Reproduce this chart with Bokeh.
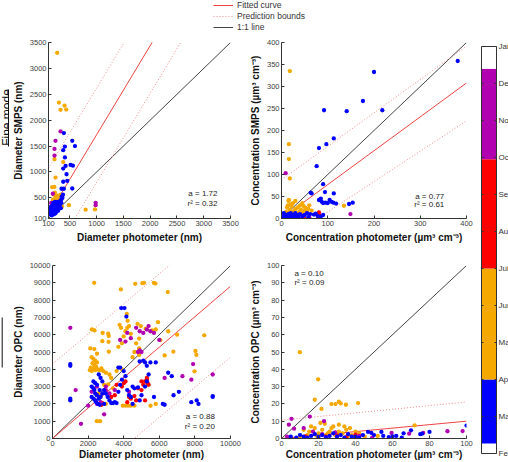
import numpy as np
from bokeh.plotting import figure
from bokeh.models import (Range1d, ColumnDataSource, Label, Legend, LegendItem,
                          CategoricalColorMapper)
from bokeh.layouts import row, column
from bokeh.embed import file_html
from bokeh.resources import INLINE
from bokeh.core.properties import value

FONT = "Liberation Sans"

# ---------------- data ----------------
GROUPS = ["Feb-Mar", "Apr-Jun", "Jul-Sep", "Oct-Dec"]
GROUP_COLORS = ["#0000ff", "#f5a800", "#ff0000", "#b000b0"]

FIT_COLOR = "#ee4444"
BOUND_COLOR = "#f08a8a"
ONE_COLOR = "#444444"

# colour bar (month axis: Feb at bottom = 0 ... Jan at top = 11)
MONTHS = ["Feb", "Mar", "Apr", "May", "Jun", "Jul", "Aug", "Sep", "Oct", "Nov", "Dec", "Jan"]
CB_EDGES = [0.0, 0.27, 2.0, 5.0, 7.95, 10.4, 11.0]
CB_COLORS = ["#ffffff", "#0000ff", "#f5a800", "#ff0000", "#b000b0", "#ffffff"]

# panel 1: fine mode diameter (SMPS vs photometer)
fine_dia_orange = [(262, 3300), (294, 2340), (400, 2280), (325, 2200), (431, 2205), (212, 1245),
                   (375, 1190), (231, 890), (169, 705), (210, 710), (200, 560), (220, 600),
                   (240, 520), (215, 470), (250, 450), (180, 460), (260, 540), (230, 500),
                   (280, 320), (300, 300), (270, 350), (481, 357), (794, 270), (969, 275),
                   (350, 330), (190, 420), (205, 380), (240, 280), (290, 480), (320, 560)]
fine_dia_magenta = [(325, 1783), (231, 1600), (212, 1445), (212, 1315), (181, 578), (981, 403),
                    (981, 357), (150, 400), (200, 250), (170, 330)]
fine_dia_blue = [(387, 1750), (544, 1600), (594, 1500), (375, 1420), (406, 1490), (406, 1280),
                 (375, 1065), (419, 1115), (512, 1135), (556, 1120), (437, 955), (375, 810),
                 (450, 825), (344, 675), (387, 675), (544, 680), (130, 180), (150, 200),
                 (160, 230), (180, 260), (200, 300), (220, 320), (240, 360), (260, 380),
                 (280, 400), (300, 420), (320, 440), (340, 470), (360, 500), (150, 300),
                 (170, 350), (190, 400), (210, 250), (230, 200), (250, 300), (270, 280),
                 (290, 330), (310, 350), (140, 260), (160, 160), (200, 180), (240, 230),
                 (280, 250), (330, 300), (350, 520), (370, 560), (120, 220), (180, 200),
                 (220, 420), (260, 420), (300, 380), (340, 400), (130, 320), (175, 280)]
fine_dia_red = []
fine_dia_fit = (1.72, 0.32)
fine_dia_upper = (1.72, 900)
fine_dia_lower = (1.72, -920)

# panel 2: fine mode volume concentration (SMPS vs photometer)
fine_conc_blue = [(200, 333), (176, 267), (92, 246), (141, 244), (218, 246), (113, 182), (97, 169),
                  (81, 160), (76, 119), (90, 78), (63, 59), (65, 57), (94, 60), (113, 57),
                  (81, 42), (87, 38), (90, 35), (95, 36), (100, 35), (104, 42), (108, 38),
                  (112, 36), (118, 34), (85, 45), (146, 33), (154, 36), (381, 358),
                  (3, 2), (5, 5), (8, 3), (10, 8), (12, 4), (15, 10), (18, 6), (20, 12), (22, 3),
                  (25, 9), (28, 5), (30, 12), (33, 8), (36, 4), (40, 10), (45, 6), (50, 8),
                  (55, 12), (58, 3), (62, 10), (70, 9), (74, 11), (78, 6), (85, 4), (90, 8),
                  (5, 12), (15, 2), (30, 1), (45, 2)]
fine_conc_orange = [(18, 335), (16, 169), (16, 135), (18, 91), (16, 42), (135, 29),
                    (8, 5), (10, 15), (12, 25), (14, 30), (18, 20), (20, 10), (22, 28), (25, 35),
                    (28, 18), (30, 22), (32, 8), (35, 25), (38, 15), (40, 30), (42, 20), (45, 12),
                    (48, 28), (50, 18), (52, 24), (55, 15), (58, 22), (60, 30), (15, 40), (25, 14),
                    (35, 5), (45, 35), (65, 18), (30, 40), (20, 32), (12, 12)]
fine_conc_magenta = [(9, 103), (149, 10), (79, 2), (60, 3), (20, 2)]
fine_conc_red = [(81, 14), (81, 9), (48, 2), (83, 4)]
fine_conc_fit = (0.77, 0.61)
fine_conc_upper = (0.76, 88)
fine_conc_lower = (0.69, -54)

# panel 3: coarse mode diameter (OPC vs photometer)
coarse_dia_orange = [(2342, 8996), (3843, 8618), (4648, 8940), (5051, 8978), (5142, 8996),
                     (5691, 8996), (5783, 8958), (6478, 8466), (3770, 6572), (3850, 6400),
                     (4172, 7197), (4220, 6800), (4300, 6500), (2214, 6307), (2360, 6250),
                     (2818, 6098), (3129, 6061), (3160, 5930), (2800, 5625), (3148, 5588),
                     (2123, 5209), (2350, 5170), (3166, 5019), (2500, 4900), (2200, 4700),
                     (2300, 4600), (2400, 4500), (2500, 4400), (2250, 4350), (2350, 4250),
                     (2450, 4150), (2150, 4100), (2300, 4050), (2400, 3950), (2550, 4000),
                     (2650, 3950), (2100, 3950), (2200, 3900), (2750, 4050), (2850, 3900),
                     (3000, 3800), (3200, 3700), (3600, 3900), (3900, 4000), (3700, 5300),
                     (3900, 5500), (4000, 5900), (4100, 6200), (4200, 6400), (4400, 6050),
                     (4776, 6629), (4959, 6496), (5234, 6345), (5600, 6250), (5929, 6724),
                     (5800, 6300), (4868, 5777), (4868, 5208), (4868, 4830), (4700, 5500),
                     (4600, 5000), (4500, 4700), (6057, 5682), (6789, 5019), (8528, 5966),
                     (8034, 5057), (8080, 4830), (7979, 3883), (5508, 1894), (3950, 1900),
                     (4100, 1900), (4250, 1900), (4400, 1900), (4600, 1900), (2489, 1004),
                     (2672, 1004), (3129, 3125), (3400, 2900), (2600, 2600), (3000, 2000),
                     (5800, 2000), (6300, 4800), (6500, 6200), (2700, 2400), (3300, 3500),
                     (2900, 3100), (7000, 6000)]
coarse_dia_blue = [(3861, 7538), (4044, 7538), (4150, 7050), (1000, 4300), (1000, 4200),
                   (1000, 2200), (1000, 2300), (2200, 3000), (2300, 2900), (2350, 2800),
                   (2400, 2600), (2500, 2500), (2200, 2400), (2300, 2300), (2400, 2200),
                   (2450, 2100), (2550, 2000), (2600, 2300), (2700, 2400), (2800, 2600),
                   (2650, 2800), (2500, 3100), (2400, 3200), (2300, 3300), (2600, 3700),
                   (2700, 3500), (2800, 3300), (2900, 2800), (3000, 2600), (3100, 2400),
                   (3200, 2200), (3300, 2050), (3400, 2050), (3600, 2050), (3700, 2700),
                   (3800, 3100), (3900, 3400), (3700, 4100), (3800, 4100), (4000, 3900),
                   (4100, 3600), (4200, 2800), (4300, 2500), (4400, 2400), (4500, 3000),
                   (4600, 2900), (4800, 2950), (4900, 4450), (5100, 4500), (5200, 4400),
                   (5300, 4200), (5500, 4400), (5400, 3700), (5300, 3300), (5200, 3000),
                   (5000, 2500), (4900, 2200), (5700, 2400), (5800, 4400), (6200, 2000),
                   (6300, 1950), (6500, 3800), (6700, 3600), (6800, 2500), (7100, 2700),
                   (7800, 2100), (8100, 2200), (8200, 2000), (9000, 2400), (9000, 2450),
                   (4500, 2000), (3500, 2100), (2900, 2000), (2650, 1950)]
coarse_dia_red = [(2700, 2000), (2750, 1950), (2800, 2050), (3300, 2400), (3500, 2500),
                  (3600, 3100), (3900, 3000), (4000, 3200), (4100, 3300), (4200, 2100),
                  (4300, 2400), (4400, 2300), (4600, 2450), (4700, 2200), (4800, 2900),
                  (5000, 2800), (5100, 3100), (5200, 3300), (5300, 3500), (5300, 3400),
                  (5350, 3200), (5400, 3100), (5000, 3300), (5200, 2200)]
coarse_dia_magenta = [(1000, 6400), (1300, 2800), (1600, 850), (2000, 1900), (2200, 2700),
                      (2500, 2000), (2700, 2100), (2900, 1400), (3000, 3000), (3200, 2600),
                      (3500, 2800), (3800, 5700), (4100, 5600), (4400, 5800), (4700, 6400),
                      (4900, 6200), (5100, 6100), (5300, 6300), (5500, 6200), (5700, 6100),
                      (5400, 6500), (4800, 5000), (4900, 5100), (5000, 5000), (6000, 5700),
                      (6300, 3500), (7300, 3600), (7900, 4300), (7800, 3400), (9000, 3700),
                      (4200, 6100), (4300, 2700), (3000, 2800), (2500, 3000)]
coarse_dia_fit = (0.88, 0.20)
coarse_dia_upper = (0.87, 4300)
coarse_dia_lower = (0.87, -4000)

# panel 4: coarse mode volume concentration (OPC vs photometer)
coarse_conc_orange = [(9.9, 49.9), (19.8, 34.2), (18, 22.4), (21.6, 17.1), (27, 19.9), (29.2, 19.9),
                      (31, 21.3), (32, 20.3), (34.8, 19.5), (41.4, 20.5), (72, 7.6), (23.4, 8.5),
                      (31, 8), (37, 6), (12, 5), (15, 4), (18, 6), (20, 3), (22, 5), (25, 3),
                      (27, 6), (29, 2), (31, 4), (33, 3), (35, 5), (38, 2), (40, 4), (42, 3),
                      (14, 2), (16, 7), (24, 2), (26, 4), (28, 7), (30, 2.5), (10, 1), (36, 1.5),
                      (45, 1), (52, 1.5), (19, 1.5), (21, 9), (34, 7)]
coarse_conc_blue = [(80, 3.8), (70, 4.7), (54, 3.8), (46.8, 3.8), (48.6, 3.2), (62, 1.5), (75, 2.5),
                    (76, 2.8), (100, 7.5), (60, 1.2), (58, 0.8), (65, 0.5), (44, 2), (40, 1),
                    (5, 1), (8, 0.5), (10, 2), (12, 1), (14, 0.5), (16, 1.5), (18, 2.5), (20, 1),
                    (22, 2), (24, 0.8), (26, 1.5), (28, 3), (30, 1), (32, 2), (34, 0.5),
                    (36, 2.5), (38, 1), (42, 0.5), (50, 2), (55, 1.5), (66, 3)]
coarse_conc_magenta = [(5.4, 11.4), (15.3, 12.7), (6.8, 5.7), (4, 8), (69, 2.8), (76.6, 3.2),
                       (89.7, 4.2), (59.5, 3.2), (97.9, 4.3), (23, 10), (12, 6), (17, 4),
                       (22, 2.5), (29, 3.5), (3, 1), (42, 1.5), (49, 0.5)]
coarse_conc_red = [(24, 1), (30, 1.8), (35, 0.8), (40, 2.2), (13, 1.2)]
coarse_conc_fit = (0.10, 0.09)
coarse_conc_upper = (0.105, 10.6)
coarse_conc_lower = (0.10, -10.6)

# ---------------- styling helpers ----------------
cmap = CategoricalColorMapper(factors=GROUPS, palette=GROUP_COLORS)


def style_axis(ax, label_standoff=3):
    ax.axis_line_color = "#333333"
    ax.major_tick_line_color = "#333333"
    ax.major_tick_in = 3
    ax.major_tick_out = 0
    ax.minor_tick_line_color = None
    ax.major_label_text_font = FONT
    ax.major_label_text_font_size = "7.5px"
    ax.major_label_text_color = "#404040"
    ax.major_label_standoff = 2
    ax.axis_label_text_font = FONT
    ax.axis_label_text_font_size = "10px"
    ax.axis_label_text_font_style = "bold"
    ax.axis_label_text_color = "#111111"
    ax.axis_label_standoff = label_standoff


def panel(w, h, xr, yr, borders, xticks, yticks, xlabel, ylabel,
          orange, blue, red, magenta, fit, upper, lower, xlab_standoff=3):
    left, right, top, bottom = borders
    p = figure(width=w, height=h, x_range=Range1d(*xr), y_range=Range1d(*yr),
               output_backend="svg", toolbar_location=None,
               min_border_left=left, min_border_right=right,
               min_border_top=top, min_border_bottom=bottom)
    p.grid.visible = False
    p.outline_line_color = None
    p.background_fill_color = "white"
    p.border_fill_color = "white"
    style_axis(p.xaxis[0], xlab_standoff)
    style_axis(p.yaxis[0])
    p.xaxis.ticker = xticks
    p.yaxis.ticker = yticks
    p.xaxis.axis_label = xlabel
    p.yaxis.axis_label = ylabel

    xs = np.array([xr[0], xr[1]], dtype=float)
    p.line(xs, xs, line_color=ONE_COLOR, line_width=1)
    p.line(xs, upper[0] * xs + upper[1], line_color=BOUND_COLOR, line_width=1, line_dash="1 2")
    p.line(xs, lower[0] * xs + lower[1], line_color=BOUND_COLOR, line_width=1, line_dash="1 2")
    p.line(xs, fit[0] * xs, line_color=FIT_COLOR, line_width=1)

    xs_, ys_, gs_ = [], [], []
    for pts, g in ((orange, "Apr-Jun"), (red, "Jul-Sep"), (magenta, "Oct-Dec"), (blue, "Feb-Mar")):
        for (a, b) in pts:
            xs_.append(a)
            ys_.append(b)
            gs_.append(g)
    src = ColumnDataSource(dict(x=xs_, y=ys_, g=gs_))
    p.scatter("x", "y", source=src, size=4.3, marker="circle",
              fill_color={"field": "g", "transform": cmap}, line_color=None)
    return p


def stats(p, x, y1, y2, fit, align):
    for yy, txt in ((y1, "a = %.2f" % fit[0]), (y2, "r\u00b2 = %.2f" % fit[1])):
        p.add_layout(Label(x=x, y=yy, text=txt, text_align=align, text_baseline="middle",
                           text_font=FONT, text_font_size="8px", text_color="#222222"))


UM = "\u00b5m\u00b3 cm\u207b\u00b3"

p1 = panel(237, 213, (100, 3500), (100, 3500), (39, 16, 7, 30),
           [100, 500, 1000, 1500, 2000, 2500, 3000, 3500],
           [100, 500, 1000, 1500, 2000, 2500, 3000, 3500],
           "Diameter photometer (nm)", "Diameter SMPS (nm)",
           fine_dia_orange, fine_dia_blue, fine_dia_red, fine_dia_magenta,
           fine_dia_fit, fine_dia_upper, fine_dia_lower)
stats(p1, 3257, 583, 390, fine_dia_fit, "right")

p2 = panel(228, 213, (0, 400), (0, 400), (35, 8, 7, 30),
           [0, 100, 200, 300, 400], list(range(0, 401, 50)),
           "Concentration photometer (" + UM + ")", "Concentration SMPS (" + UM + ")",
           fine_conc_orange, fine_conc_blue, fine_conc_red, fine_conc_magenta,
           fine_conc_fit, fine_conc_upper, fine_conc_lower)
stats(p2, 352, 50, 32, fine_conc_fit, "right")

p3 = panel(237, 214, (0, 10000), (0, 10000), (39, 16, 17, 20),
           list(range(0, 10001, 2000)), list(range(0, 10001, 1000)),
           "Diameter photometer (nm)", "Diameter OPC (nm)",
           coarse_dia_orange, coarse_dia_blue, coarse_dia_red, coarse_dia_magenta,
           coarse_dia_fit, coarse_dia_upper, coarse_dia_lower, xlab_standoff=0)
stats(p3, 9121, 1250, 682, coarse_dia_fit, "right")

p4 = panel(228, 214, (0, 100), (0, 100), (35, 8, 17, 20),
           list(range(0, 101, 20)), list(range(0, 101, 10)),
           "Concentration photometer (" + UM + ")", "Concentration OPC (" + UM + ")",
           coarse_conc_orange, coarse_conc_blue, coarse_conc_red, coarse_conc_magenta,
           coarse_conc_fit, coarse_conc_upper, coarse_conc_lower, xlab_standoff=0)
stats(p4, 7.0, 95.5, 90.3, coarse_conc_fit, "left")


def bare(w, h, xr, yr):
    f = figure(width=w, height=h, x_range=Range1d(*xr), y_range=Range1d(*yr),
               x_axis_type=None, y_axis_type=None, min_border=0,
               output_backend="svg", toolbar_location=None)
    f.grid.visible = False
    f.outline_line_color = None
    f.background_fill_color = "white"
    f.border_fill_color = "white"
    return f


# header with legend (sample renderers lie outside the visible range)
hdr = bare(508, 35, (0, 508), (0, 35))
r_fit = hdr.line([-20, -10], [-5, -5], line_color=FIT_COLOR, line_width=1)
r_bnd = hdr.line([-20, -10], [-5, -5], line_color=BOUND_COLOR, line_width=1, line_dash="1 2")
r_one = hdr.line([-20, -10], [-5, -5], line_color=ONE_COLOR, line_width=1)
leg = Legend(items=[LegendItem(label="Fitted curve", renderers=[r_fit]),
                    LegendItem(label="Prediction bounds", renderers=[r_bnd]),
                    LegendItem(label="1:1 line", renderers=[r_one])],
             location=(213, 3), orientation="vertical", padding=0, margin=0, spacing=1,
             glyph_width=20, glyph_height=10, label_height=10, label_standoff=4,
             label_text_font=FONT, label_text_font_size="8.5px", label_text_color="#333333",
             background_fill_alpha=0, border_line_color=None)
hdr.add_layout(leg)

# left strip with row label (cut by the page edge as in the original)
strip = bare(9, 427, (0, 9), (0, 427))
strip.text(x=[6.5], y=[427 - (117 - 35)], text=["Fine mode"], angle=np.pi / 2,
           text_align="center", text_baseline="alphabetic", text_font=value(FONT),
           text_font_size="12px", text_color="#111111")
strip.segment(x0=[8, 1.7], y0=[427 - (89 - 35), 427 - (317 - 35)],
              x1=[8, 1.7], y1=[427 - (146 - 35), 427 - (367 - 35)],
              line_color="#111111", line_width=1)

# colour bar
cb = bare(34, 427, (0, 34), (-0.243, 11.297))
cb.quad(left=7, right=22, bottom=CB_EDGES[:-1], top=CB_EDGES[1:], fill_color=CB_COLORS,
        line_color=None)
cb.quad(left=[7], right=[22], bottom=[CB_EDGES[0]], top=[CB_EDGES[-1]], fill_color=None,
        line_color="#333333", line_width=1)
ticks = list(range(len(MONTHS)))
cb.segment(x0=[7] * len(ticks), y0=ticks, x1=[9] * len(ticks), y1=ticks, line_color="#333333")
cb.segment(x0=[20] * len(ticks), y0=ticks, x1=[22] * len(ticks), y1=ticks, line_color="#333333")
cb.text(x=[24] * len(ticks), y=ticks, text=MONTHS, text_baseline="middle", text_align="left",
        text_font=value(FONT), text_font_size="8px", text_color="#333333")

layout = column(hdr, row(strip, column(row(p1, p2), row(p3, p4)), cb))

open("out.html", "w").write(file_html(layout, INLINE))
